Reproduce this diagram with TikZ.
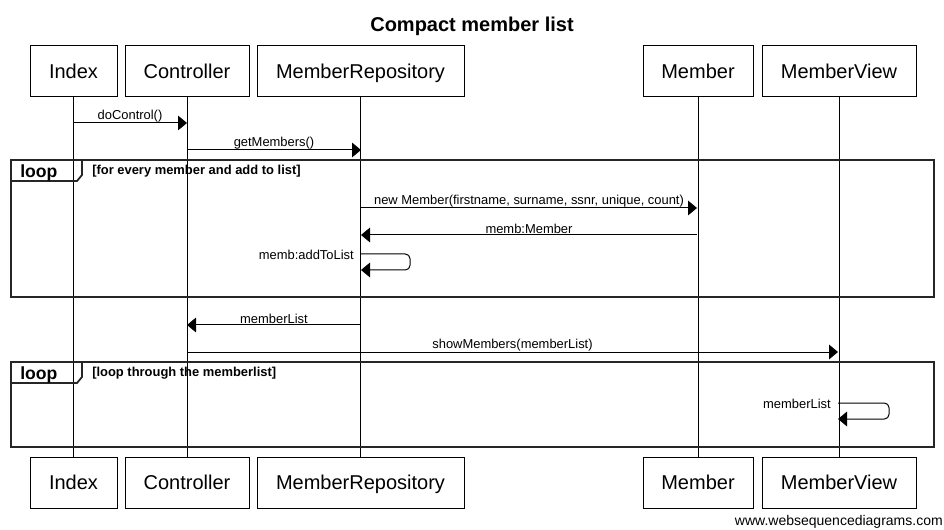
\documentclass[tikz,border=0pt]{standalone}
\usepackage{fontspec}
\setmainfont{Liberation Sans}
\usetikzlibrary{arrows.meta}
\begin{document}
\begin{tikzpicture}[x=0.75pt,y=-0.75pt,
  actor/.style={draw, line width=0.75pt, minimum height=38.25pt, inner sep=0pt, text height=13pt, text depth=2pt, font=\fontsize{15}{18}\selectfont},
  life/.style={line width=0.75pt},
  msg/.style={line width=0.75pt, -{Triangle[length=6.75pt,width=11pt]}},
  lbl/.style={font=\fontsize{9.7}{11}\selectfont, inner sep=0pt},
  frame/.style={line width=1.3pt, draw=black!85},
  looptag/.style={font=\bfseries\fontsize{13.2}{15}\selectfont, inner sep=0pt, anchor=west},
  guard/.style={font=\bfseries\fontsize{9.7}{11}\selectfont, inner sep=0pt, anchor=west}]
\useasboundingbox[fill=white] (0,0) rectangle (944,530);
% title
\node[font=\bfseries\fontsize{15}{18}\selectfont] (title) at (472,26) {Compact member list};
% actors
\node[actor, minimum width=65.25pt] (tIdx) at (73.5,71.5) {Index};
\node[actor, minimum width=93pt] (tCtl) at (187,71.5) {Controller};
\node[actor, minimum width=155.25pt] (tRep) at (360.5,71.5) {MemberRepository};
\node[actor, minimum width=82.5pt] (tMem) at (698,71.5) {Member};
\node[actor, minimum width=115.5pt] (tMV) at (839,71.5) {MemberView};
\node[actor, minimum width=65.25pt] (bIdx) at (73.5,482.5) {Index};
\node[actor, minimum width=93pt] (bCtl) at (187,482.5) {Controller};
\node[actor, minimum width=155.25pt] (bRep) at (360.5,482.5) {MemberRepository};
\node[actor, minimum width=82.5pt] (bMem) at (698,482.5) {Member};
\node[actor, minimum width=115.5pt] (bMV) at (839,482.5) {MemberView};
% lifelines
\draw[life] (tIdx.south) -- (bIdx.north);
\draw[life] (tCtl.south) -- (bCtl.north);
\draw[life] (tRep.south) -- (bRep.north);
\draw[life] (tMem.south) -- (bMem.north);
\draw[life] (tMV.south) -- (bMV.north);
% frames
\draw[frame] (11,160) rectangle (934,297);
\draw[frame] (11,181) -- (77,181) -- (82,175) -- (82,160);
\node[looptag] (loop1) at (20,173) {loop};
\node[guard] (guard1) at (92,171) {[for every member and add to list]};
\draw[frame] (11,362) rectangle (934,447);
\draw[frame] (11,383) -- (77,383) -- (82,377) -- (82,362);
\node[looptag] (loop2) at (20,375) {loop};
\node[guard] (guard2) at (92,373) {[loop through the memberlist]};
% message endpoints
\coordinate (m1a) at (73,123);  \coordinate (m1b) at (187,123);
\coordinate (m2a) at (187,150); \coordinate (m2b) at (361,150);
\coordinate (m3a) at (361,208); \coordinate (m3b) at (697,208);
\coordinate (m4a) at (697,235); \coordinate (m4b) at (361,235);
\coordinate (m5a) at (361,254); \coordinate (m5b) at (361,270);
\coordinate (m6a) at (361,325); \coordinate (m6b) at (187,325);
\coordinate (m7a) at (187,352); \coordinate (m7b) at (838,352);
\coordinate (m8a) at (838,403); \coordinate (m8b) at (838,419);
% messages
\draw[msg] (m1a) -- node[lbl, above=0.3pt] {doControl()} (m1b);
\draw[msg] (m2a) -- node[lbl, above=0.3pt] {getMembers()} (m2b);
\draw[msg] (m3a) -- node[lbl, above=0.3pt] {new Member(firstname, surname, ssnr, unique, count)} (m3b);
\draw[msg] (m4a) -- node[lbl, above=0.3pt] {memb:Member} (m4b);
\draw[msg, rounded corners=3.5pt] (m5a) -- ++(49,0) |- (m5b);
\node[lbl, anchor=east] (l5) at (354,255) {memb:addToList};
\draw[msg] (m6a) -- node[lbl, above=0.3pt] {memberList} (m6b);
\draw[msg] (m7a) -- node[lbl, above=0.3pt] {showMembers(memberList)} (m7b);
\draw[msg, rounded corners=3.5pt] (m8a) -- ++(51,0) |- (m8b);
\node[lbl, anchor=east] (l8) at (831,404) {memberList};
% footer
\node[anchor=east, font=\fontsize{10.5}{12}\selectfont, inner sep=0pt] (foot) at (943,522) {www.websequencediagrams.com};
\end{tikzpicture}
\end{document}
